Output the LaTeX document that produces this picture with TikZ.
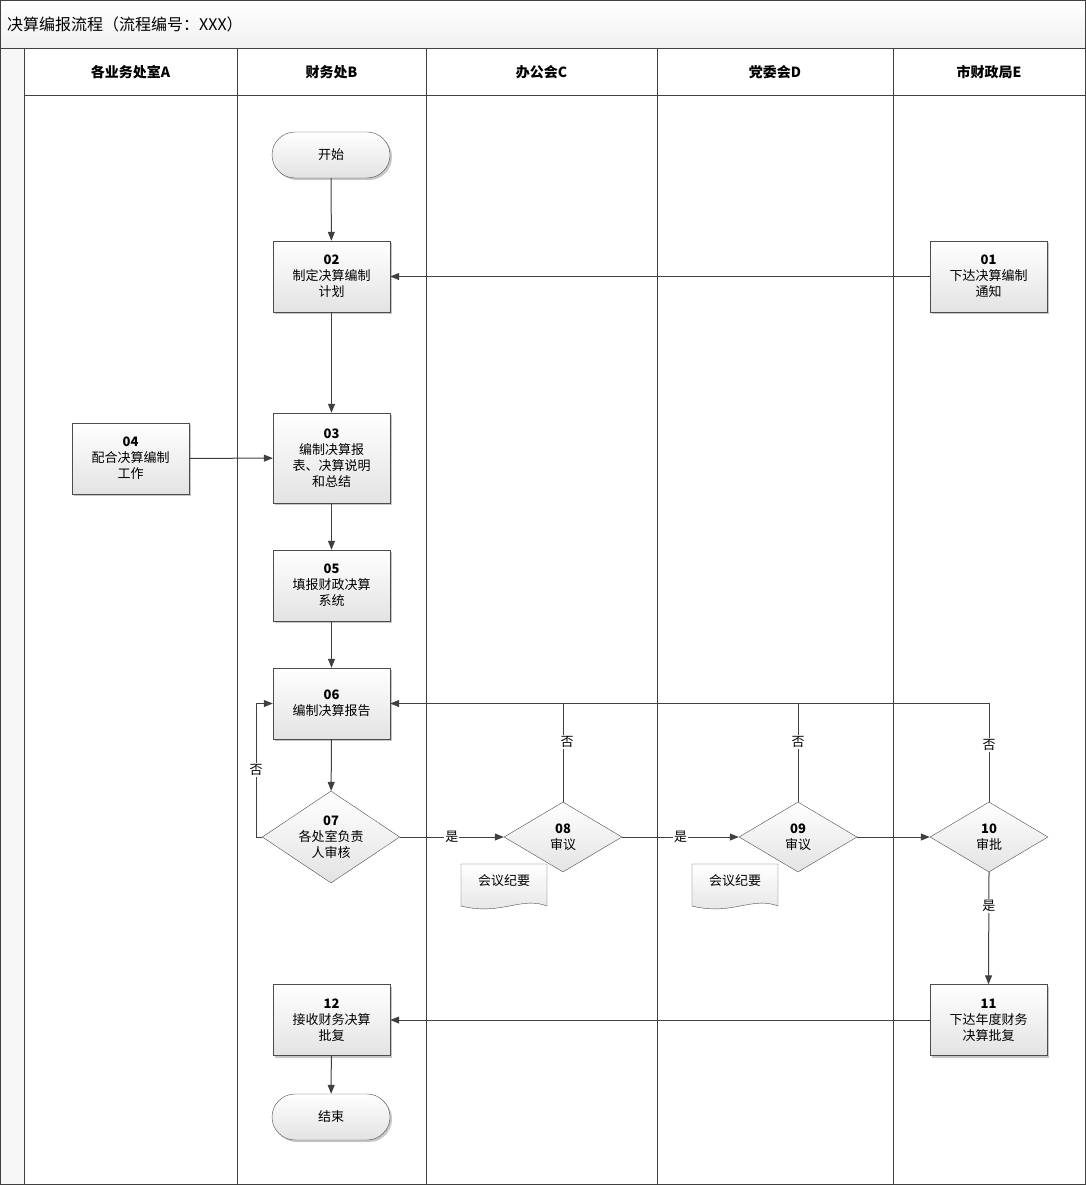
\documentclass[tikz,border=0pt]{standalone}
\usepackage{fontspec}
\setmainfont{Noto Sans CJK SC}
\usetikzlibrary{shapes.geometric,shadows,arrows.meta}
\begin{document}
\begin{tikzpicture}[x=1pt,y=-1pt,
  every node/.style={font=\fontsize{13}{16}\selectfont, align=center, inner sep=1pt},
  proc/.style={draw=black!70, top color=white, bottom color=gray!22, minimum width=117pt, minimum height=71pt, text width=108pt, drop shadow={shadow xshift=2pt, shadow yshift=-2pt, fill=gray!45, opacity=1}},
  term/.style={draw=black!70, rounded corners=23pt, top color=white, bottom color=gray!22, minimum width=118pt, minimum height=46pt, drop shadow={shadow xshift=2pt, shadow yshift=-2pt, fill=gray!45, opacity=1}},
  dec/.style={draw=black!70, diamond, aspect=1.7, top color=white, bottom color=gray!22, inner sep=0pt, minimum width=118pt, minimum height=70pt},
  arr/.style={draw=black!75, line width=1pt, -{Triangle[length=9pt,width=7pt]}},
  lane/.style={draw=black!75, line width=0.6pt},
  hd/.style={font=\fontsize{14}{16}\selectfont\bfseries},
  lbl/.style={fill=white, inner sep=1pt}
]
\useasboundingbox (0,0) rectangle (1086,1185);
% frame
\fill[top color=white,bottom color=gray!12] (0.5,0.5) rectangle (1085.5,48);
\fill[gray!6] (0.5,48) rectangle (24,1184.5);
\draw[lane] (0.5,0.5) rectangle (1085.5,1184.5);
\draw[lane] (0.5,48) -- (1085.5,48);
\draw[lane] (24,95) -- (1085.5,95);
\draw[lane] (24,48) -- (24,1184.5);
\foreach \x in {237,426,657,893} \draw[lane] (\x,48) -- (\x,1184.5);
\node[anchor=west, font=\fontsize{16}{18}\selectfont] (title) at (6,24) {决算编报流程（流程编号：XXX）};
\node[hd] (hA) at (130.5,72) {各业务处室A};
\node[hd] (hB) at (331.5,72) {财务处B};
\node[hd] (hC) at (541.5,72) {办公会C};
\node[hd] (hD) at (775,72) {党委会D};
\node[hd] (hE) at (989,72) {市财政局E};
% nodes
\node[term] (start) at (331,155) {开始};
\node[proc] (n02) at (331.5,276.5) {\textbf{02}\\制定决算编制\\计划};
\node[proc] (n01) at (988.5,276.5) {\textbf{01}\\下达决算编制\\通知};
\node[proc] (n04) at (130.5,458.5) {\textbf{04}\\配合决算编制\\工作};
\node[proc, minimum height=90pt] (n03) at (331.5,458) {\textbf{03}\\编制决算报\\表、决算说明\\和总结};
\node[proc] (n05) at (331.5,585.5) {\textbf{05}\\填报财政决算\\系统};
\node[proc] (n06) at (331.5,703.5) {\textbf{06}\\编制决算报告};
\node[dec, minimum width=116pt, minimum height=92pt] (n07) at (331,837) {\textbf{07}\\各处室负责\\人审核};
\node[dec] (n08) at (563,837) {\textbf{08}\\审议};
\node[dec] (n09) at (798,837) {\textbf{09}\\审议};
\node[dec] (n10) at (989,837) {\textbf{10}\\审批};
\node[proc] (n11) at (988.5,1020) {\textbf{11}\\下达年度财务\\决算批复};
\node[proc] (n12) at (331.5,1020) {\textbf{12}\\接收财务决算\\批复};
\node[term] (end) at (331,1117) {结束};
% documents
\foreach \xx/\nm in {461/d1,692/d2}{
  \draw[draw=black!70, top color=white, bottom color=gray!22] (\xx,864) -- (\xx+86,864) -- (\xx+86,906)
     .. controls (\xx+60,896) and (\xx+40,916) .. (\xx,906) -- cycle;
  \node (\nm) at (\xx+43,881) {会议纪要};
}
% connectors
\draw[arr] (start) -- (n02);
\draw[arr] (n01) -- (n02);
\draw[arr] (n02) -- (n03);
\draw[arr] (n04) -- (n03);
\draw[arr] (n03) -- (n05);
\draw[arr] (n05) -- (n06);
\draw[arr] (n06) -- (n07);
\coordinate (l07a) at (256,837);
\coordinate (l07b) at (256,703.5);
\draw[arr] (n07.west) -- (l07a) -- (l07b) -- (n06.west);
\node[lbl] (f07) at (256,770) {否};
\draw[arr] (n07.east) -- node[lbl,pos=0.5] (y07) {是} (n08.west);
\draw[arr] (n08.east) -- node[lbl,pos=0.5] (y08) {是} (n09.west);
\draw[arr] (n09.east) -- (n10.west);
\coordinate (t08) at (563,703.5);
\coordinate (t09) at (798,703.5);
\coordinate (t10) at (989,703.5);
\draw[arr] (n10.north) -- (t10) -- (n06.east);
\draw[line width=1pt, draw=black!75] (n08.north) -- (t08);
\draw[line width=1pt, draw=black!75] (n09.north) -- (t09);
\node[lbl] (f08) at (567,742) {否};
\node[lbl] (f09) at (798,742) {否};
\node[lbl] (f10) at (989,745) {否};
\draw[arr] (n10.south) -- node[lbl,pos=0.3] (y10) {是} (n11.north);
\draw[arr] (n11) -- (n12);
\draw[arr] (n12) -- (end);
\end{tikzpicture}
\end{document}
